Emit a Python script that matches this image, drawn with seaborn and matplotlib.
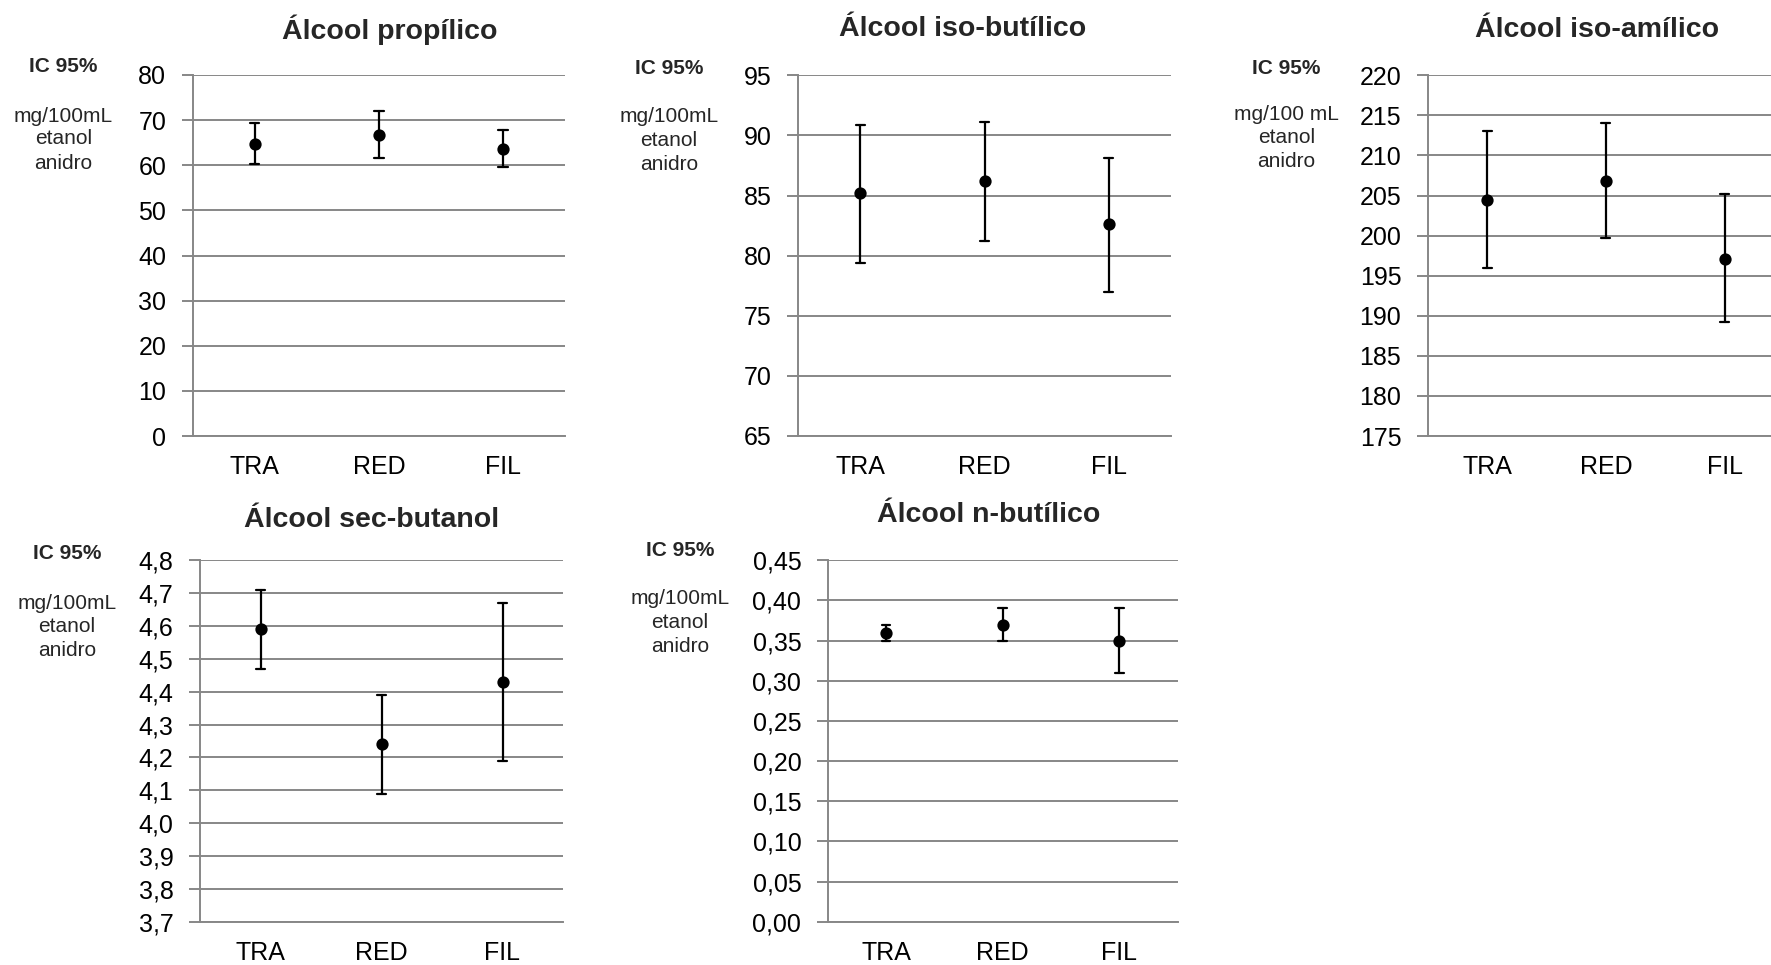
import numpy as np
import pandas as pd
import matplotlib
matplotlib.use("Agg")
import matplotlib.pyplot as plt
from matplotlib.ticker import FuncFormatter, FixedLocator
import seaborn as sns

# ---------------- data ----------------
categories = ["TRA", "RED", "FIL"]

titles = ["Álcool propílico", "Álcool iso-butílico", "Álcool iso-amílico",
          "Álcool sec-butanol", "Álcool n-butílico"]
unit_labels = ["mg/100mL", "mg/100mL", "mg/100 mL", "mg/100mL", "mg/100mL"]

propilico_mean = [64.8, 66.7, 63.7]
propilico_low = [60.2, 61.5, 59.6]
propilico_high = [69.4, 72.0, 67.9]

isobutilico_mean = [85.2, 86.2, 82.6]
isobutilico_low = [79.4, 81.2, 77.0]
isobutilico_high = [90.9, 91.1, 88.1]

isoamilico_mean = [204.4, 206.8, 197.1]
isoamilico_low = [195.9, 199.7, 189.2]
isoamilico_high = [213.0, 214.0, 205.2]

secbutanol_mean = [4.59, 4.24, 4.43]
secbutanol_low = [4.47, 4.09, 4.19]
secbutanol_high = [4.71, 4.39, 4.67]

nbutilico_mean = [0.36, 0.37, 0.35]
nbutilico_low = [0.35, 0.35, 0.31]
nbutilico_high = [0.37, 0.39, 0.39]

y_ranges = [(0, 80, 10), (65, 95, 5), (175, 220, 5), (3.7, 4.8, 0.1), (0.0, 0.45, 0.05)]
decimals = [0, 0, 0, 1, 2]

series = [
    (propilico_mean, propilico_low, propilico_high),
    (isobutilico_mean, isobutilico_low, isobutilico_high),
    (isoamilico_mean, isoamilico_low, isoamilico_high),
    (secbutanol_mean, secbutanol_low, secbutanol_high),
    (nbutilico_mean, nbutilico_low, nbutilico_high),
]

# ---------------- layout (pixels) ----------------
W, H = 1771, 965
# (left, right, top, bottom)
axes_px = [
    (192.7, 565.0, 75.0, 436.0),
    (798.3, 1170.7, 75.3, 436.0),
    (1427.7, 1784.0, 75.3, 436.0),
    (200.0, 563.0, 560.3, 921.7),
    (827.7, 1177.7, 560.3, 921.7),
]
title_px = [(389.5, 30), (962.5, 28.5), (1596.7, 30), (371.7, 520), (988.8, 515)]
side_x = [63.3, 669.0, 1286.4, 67.0, 680.0]
side_y = [(66, 116, 139, 163), (69, 116.7, 140, 165), (68.3, 115, 137.7, 161.7),
          (553.3, 603.3, 626.7, 650), (550, 599, 622.7, 646.7)]

sns.set_style("white")
plt.rcParams["font.family"] = ["Liberation Sans", "DejaVu Sans"]

GRAY = "#878787"

fig = plt.figure(figsize=(W / 100, H / 100), dpi=100)

for i in range(5):
    l, r, t, b = axes_px[i]
    ax = fig.add_axes([l / W, 1 - b / H, (r - l) / W, (b - t) / H])
    mean, low, high = series[i]
    df = pd.DataFrame({
        "cat": categories * 3,
        "val": list(low) + list(mean) + list(high),
    })
    sns.pointplot(data=df, x="cat", y="val", order=categories,
                  estimator="median", errorbar=("pi", 100),
                  capsize=0.075, color="black", markers="o",
                  linestyle="none", markersize=6.8,
                  err_kws={"linewidth": 1.6}, ax=ax, zorder=5)
    # thicker caps, as in the reference
    for ln in ax.lines:
        yd = np.asarray(ln.get_ydata(), dtype=float)
        xd = np.asarray(ln.get_xdata(), dtype=float)
        if len(yd) == 2 and np.isclose(yd[0], yd[1]) and not np.isclose(xd[0], xd[1]):
            ln.set_linewidth(2.6)
            ln.set_solid_capstyle("butt")
    lo, hi, step = y_ranges[i]
    ticks = np.round(np.arange(lo, hi + step / 2, step), 4)
    ax.set_ylim(lo, hi)
    ax.set_xlim(-0.5, 2.5)
    ax.yaxis.set_major_locator(FixedLocator(ticks))
    d = decimals[i]
    ax.yaxis.set_major_formatter(FuncFormatter(
        lambda v, p, d=d: (f"{v:.{d}f}").replace(".", ",")))
    ax.set_xticks([0, 1, 2])
    ax.set_xticklabels(categories)
    ax.set_xticks([-0.5, 0.5, 1.5, 2.5], minor=True)
    ax.tick_params(axis="x", which="major", length=0, pad=14, labelsize=18,
                   labelcolor="black")
    ax.tick_params(axis="x", which="minor", length=7, width=1.4, color=GRAY,
                   direction="out")
    ax.tick_params(axis="y", which="major", length=8, width=1.4, color=GRAY,
                   direction="out", pad=11, labelsize=18, labelcolor="black",
                   left=True)
    ax.set_xlabel("")
    ax.set_ylabel("")
    ax.grid(axis="y", color=GRAY, linewidth=1.4)
    ax.grid(axis="x", visible=False)
    ax.set_axisbelow(True)
    for s in ["top", "right"]:
        ax.spines[s].set_visible(False)
    for s in ["left", "bottom"]:
        ax.spines[s].set_color(GRAY)
        ax.spines[s].set_linewidth(1.4)
    ax.set_facecolor("white")

    # titles and side labels
    tx, ty = title_px[i]
    fig.text(tx / W, 1 - ty / H, titles[i], ha="center", va="center",
             fontsize=20.5, fontweight="bold")
    sx = side_x[i]
    yy = side_y[i]
    fig.text(sx / W, 1 - yy[0] / H, "IC 95%", ha="center", va="center",
             fontsize=15, fontweight="bold")
    for txt, y in zip([unit_labels[i], "etanol", "anidro"], yy[1:]):
        fig.text(sx / W, 1 - y / H, txt, ha="center", va="center", fontsize=15)

fig.savefig("out.png", dpi=100, facecolor="white")
